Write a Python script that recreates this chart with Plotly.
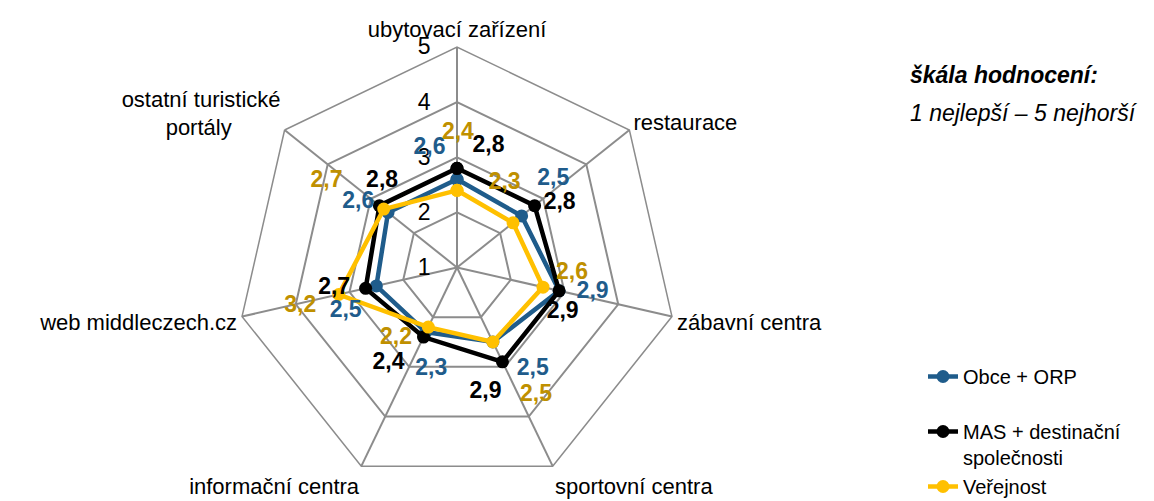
import plotly.graph_objects as go

# ---- data ----
categories = ["ubytovací zařízení", "restaurace", "zábavní centra", "sportovní centra",
              "informační centra", "web middleczech.cz",
              "ostatní turistické<br>portály" + "\u00a0" * 8]
series_names = ["Obce + ORP", "MAS + destinační<br>společnosti", "Veřejnost"]
obce = [2.6, 2.5, 2.9, 2.5, 2.3, 2.5, 2.6]
mas = [2.8, 2.8, 2.9, 2.9, 2.4, 2.7, 2.8]
verejnost = [2.4, 2.3, 2.6, 2.5, 2.2, 3.2, 2.7]
radial_ticks = [1, 2, 3, 4, 5]

# ---- styles ----
FONT = "Liberation Sans, Arial, sans-serif"
GRID = "#8c8c8c"
line_colors = ["#1F5C8B", "#000000", "#FFC000"]
label_colors = ["#1F5C8B", "#000000", "#BF9000"]
# label offsets from each point: (delta r in axis units, delta angle in degrees)
label_offsets = [
    [(0.62, -13), (0.87, -4), (0.60, -2.6), (0.80, -11), (0.60, -11.5), (0.67, -8.6), (0.55, -5)],
    [(0.48, 14.5), (0.40, 6.4), (0.18, 10), (0.42, 12.8), (0.74, 9.8), (0.56, 3.2), (0.27, 10.4)],
    [(1.03, 0.4), (0.45, -21.8), (0.49, -10.1), (1.22, -6.1), (0.49, 15.2), (0.73, -1.1), (1.14, -5)],
]

W, H = 1154, 501
cx, R, top = 457, 220.5, 47
dom_x = [(cx - R) / W, (cx + R) / W]
dom_y = [1 - (top + 2 * R) / H, 1 - top / H]

fig = go.Figure()
all_series = [obce, mas, verejnost]
n = len(categories)
legend_texts = [series_names[0] + "<br> ", series_names[1], series_names[2]]

for i, vals in enumerate(all_series):
    fig.add_trace(go.Scatterpolar(
        r=vals + vals[:1], theta=categories + categories[:1],
        mode="lines+markers", name=legend_texts[i],
        line=dict(color=line_colors[i], width=4.5),
        marker=dict(color=line_colors[i], size=13),
        subplot="polar", legendgroup=str(i), hoverinfo="skip",
    ))

for i, vals in enumerate(all_series):
    rr = [v + label_offsets[i][k][0] for k, v in enumerate(vals)]
    th = [k * 360.0 / n + label_offsets[i][k][1] for k in range(n)]
    fig.add_trace(go.Scatterpolar(
        r=rr, theta=th, mode="text",
        text=[str(v).replace(".", ",") for v in vals],
        textfont=dict(family=FONT, size=23, color=label_colors[i], weight="bold"),
        subplot="polar2", showlegend=False, hoverinfo="skip",
    ))

fig.update_layout(
    width=W, height=H,
    margin=dict(l=0, r=0, t=0, b=0, autoexpand=False),
    paper_bgcolor="white", plot_bgcolor="white",
    font=dict(family=FONT, size=23, color="black"),
    polar=dict(
        domain=dict(x=dom_x, y=dom_y),
        gridshape="linear", bgcolor="white",
        radialaxis=dict(range=[1, 5], tickvals=radial_ticks, angle=90, side="counterclockwise",
                        showline=False, gridcolor=GRID, gridwidth=1.5, tickangle=90,
                        ticks="outside", ticklen=18, tickcolor="rgba(0,0,0,0)",
                        tickfont=dict(family=FONT, size=23, color="black")),
        angularaxis=dict(type="category", categoryarray=categories, rotation=90,
                         direction="clockwise", showline=True, linecolor=GRID, linewidth=1.5,
                         gridcolor=GRID, gridwidth=1.5, ticks="",
                         tickfont=dict(family=FONT, size=22, color="black")),
    ),
    polar2=dict(
        domain=dict(x=dom_x, y=dom_y),
        bgcolor="rgba(0,0,0,0)",
        radialaxis=dict(range=[1, 5], visible=False),
        angularaxis=dict(type="linear", rotation=90, direction="clockwise",
                         thetaunit="degrees", visible=False),
    ),
    legend=dict(x=923 / W, y=1 - 357 / H, xanchor="left", yanchor="top",
                font=dict(family=FONT, size=20, color="black"),
                valign="top", tracegroupgap=0, bgcolor="rgba(0,0,0,0)", traceorder="normal"),
    annotations=[
        dict(text="<b><i>škála hodnocení:</i></b>", x=908 / W, y=1 - 75 / H, xref="paper", yref="paper",
             xanchor="left", yanchor="middle", showarrow=False,
             font=dict(family=FONT, size=23, color="black")),
        dict(text="<i>1 nejlepší – 5 nejhorší</i>", x=908 / W, y=1 - 113 / H, xref="paper", yref="paper",
             xanchor="left", yanchor="middle", showarrow=False,
             font=dict(family=FONT, size=23, color="black")),
    ],
)

fig.write_html("out.html", post_script="document.body.style.margin='0';",
               config={"displayModeBar": False})
